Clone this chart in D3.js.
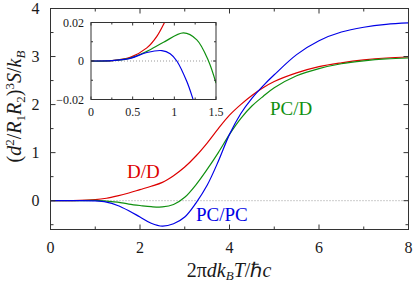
<!DOCTYPE html>
<html>
<head>
<meta charset="utf-8">
<script src="https://cdn.jsdelivr.net/npm/d3@7"></script>
<style>
  body { margin: 0; background: #fff; }
  svg { display: block; }
</style>
</head>
<body>
<svg id="chart" width="415" height="282"></svg>
<script>
// main plot values
var tMain = [0, 0.5, 1, 1.25, 1.5, 1.75, 2, 2.25, 2.5, 2.75, 3, 3.25, 3.5, 3.75, 4, 4.25, 4.5, 4.75, 5, 5.5, 6, 6.5, 7, 7.5, 8];
var dd   = [0, 0, 0.02, 0.05, 0.10, 0.16, 0.23, 0.30, 0.38, 0.52, 0.70, 0.93, 1.20, 1.50, 1.78, 2.00, 2.19, 2.35, 2.48, 2.66, 2.79, 2.87, 2.93, 2.97, 2.99];
var pcd  = [0, 0, 0.005, -0.01, -0.03, -0.07, -0.10, -0.125, -0.13, -0.08, 0.07, 0.33, 0.65, 1.00, 1.38, 1.71, 1.97, 2.17, 2.35, 2.60, 2.75, 2.85, 2.91, 2.95, 2.97];
var pcpc = [0, 0, -0.005, -0.03, -0.10, -0.21, -0.34, -0.47, -0.53, -0.48, -0.34, -0.05, 0.32, 0.82, 1.38, 1.81, 2.13, 2.39, 2.62, 3.04, 3.33, 3.51, 3.61, 3.67, 3.70];

// inset values (low temperature)
var tInRed = [0, 0.25, 0.47, 0.67, 0.79, 0.89, 0.95];
var ddIn   = [0, 0.0002, 0.0019, 0.0068, 0.0128, 0.0207, 0.026];
var tInGreen = [0, 0.25, 0.47, 0.67, 0.87, 1.11, 1.27, 1.41, 1.5];
var pcdIn  = [0, 0.0002, 0.0015, 0.005, 0.0097, 0.0146, 0.011, 0, -0.0115];
var tInBlue = [0, 0.25, 0.47, 0.67, 0.85, 0.95, 1.03, 1.15, 1.22, 1.26];
var pcpcIn = [0, 0.0002, 0.0014, 0.0044, 0.0054, 0.0038, 0, -0.0107, -0.0193, -0.025];

var xTicks = [0, 1, 2, 3, 4, 5, 6, 7, 8];
var xLabels = [0, 2, 4, 6, 8];
var yTicks = [-0.5, 0, 0.5, 1, 1.5, 2, 2.5, 3, 3.5, 4];
var yLabels = [0, 1, 2, 3, 4];
var xInTicks = [0, 0.25, 0.5, 0.75, 1, 1.25, 1.5];
var xInLabels = [0, 0.5, 1, 1.5];
var yInTicks = [-0.02, -0.01, 0, 0.01, 0.02];
var yInLabels = [-0.02, 0, 0.02];

var colRed = "#dd0000", colGreen = "#109010", colBlue = "#0000e6";
var serif = "Liberation Serif";

var svg = d3.select("#chart");

var x = d3.scaleLinear().domain([0, 8]).range([50.5, 408.5]);
var y = d3.scaleLinear().domain([-0.6, 4]).range([229.5, 8.5]);

function frame(g, xs, ys, xt, yt, xl, yl, fmtX, fmtY, big, small, fs, labX, labY) {
    var x0 = xs.range()[0], x1 = xs.range()[1];
    var y0 = ys.range()[0], y1 = ys.range()[1];
    g.append("rect").attr("x", x0).attr("y", y1).attr("width", x1 - x0).attr("height", y0 - y1)
        .attr("fill", "none").attr("stroke", "#333").attr("stroke-width", 1);
    xt.forEach(function (v) {
        var len = xl.indexOf(v) >= 0 ? big : small;
        g.append("line").attr("x1", xs(v)).attr("x2", xs(v)).attr("y1", y0).attr("y2", y0 - len).attr("stroke", "#333");
        g.append("line").attr("x1", xs(v)).attr("x2", xs(v)).attr("y1", y1).attr("y2", y1 + len).attr("stroke", "#333");
    });
    yt.forEach(function (v) {
        var len = yl.indexOf(v) >= 0 ? big : small;
        g.append("line").attr("y1", ys(v)).attr("y2", ys(v)).attr("x1", x0).attr("x2", x0 + len).attr("stroke", "#333");
        g.append("line").attr("y1", ys(v)).attr("y2", ys(v)).attr("x1", x1).attr("x2", x1 - len).attr("stroke", "#333");
    });
    xl.forEach(function (v) {
        g.append("text").attr("x", xs(v)).attr("y", y0 + labX).attr("text-anchor", "middle")
            .attr("font-family", serif).attr("font-size", fs).attr("fill", "#1a1a1a").text(fmtX(v));
    });
    yl.forEach(function (v) {
        g.append("text").attr("x", x0 - labY).attr("y", ys(v)).attr("dy", "0.35em").attr("text-anchor", "end")
            .attr("font-family", serif).attr("font-size", fs).attr("fill", "#1a1a1a").text(fmtY(v));
    });
}

function curve(g, xs, ys, tv, vv, col) {
    var line = d3.line().x(function (d) { return xs(d[0]); }).y(function (d) { return ys(d[1]); })
        .curve(d3.curveCatmullRom.alpha(0.5));
    g.append("path").datum(d3.zip(tv, vv)).attr("d", line)
        .attr("fill", "none").attr("stroke", col).attr("stroke-width", 1.2);
}

// main plot
var main = svg.append("g");
main.append("clipPath").attr("id", "clipMain").append("rect")
    .attr("x", x(0)).attr("y", y(4)).attr("width", x(8) - x(0)).attr("height", y(-0.6) - y(4));
main.append("line").attr("x1", x(0)).attr("x2", x(8)).attr("y1", y(0)).attr("y2", y(0))
    .attr("stroke", "#999").attr("stroke-dasharray", "1,2");
var mc = main.append("g").attr("clip-path", "url(#clipMain)");
curve(mc, x, y, tMain, dd, colRed);
curve(mc, x, y, tMain, pcd, colGreen);
curve(mc, x, y, tMain, pcpc, colBlue);
frame(main, x, y, xTicks, yTicks, xLabels, yLabels, d3.format("d"), d3.format("d"), 5, 3, 16, 23, 11);

// curve labels
function label(tx, ty, col, s) {
    main.append("text").attr("x", tx).attr("y", ty).attr("font-family", serif)
        .attr("font-size", 19).attr("fill", col).text(s);
}
label(127, 178, colRed, "D/D");
label(270, 115, colGreen, "PC/D");
label(196, 221, colBlue, "PC/PC");

// inset
var xi = d3.scaleLinear().domain([0, 1.5]).range([91, 216]);
var yi = d3.scaleLinear().domain([-0.02, 0.02]).range([99.5, 22.5]);
var inset = svg.append("g");
inset.append("rect").attr("x", 91).attr("y", 22.5).attr("width", 125).attr("height", 77).attr("fill", "#fff");
inset.append("clipPath").attr("id", "clipIn").append("rect")
    .attr("x", 91).attr("y", 22.5).attr("width", 125).attr("height", 77);
inset.append("line").attr("x1", xi(0)).attr("x2", xi(1.5)).attr("y1", yi(0)).attr("y2", yi(0))
    .attr("stroke", "#999").attr("stroke-dasharray", "1,2");
var ic = inset.append("g").attr("clip-path", "url(#clipIn)");
curve(ic, xi, yi, tInRed, ddIn, colRed);
curve(ic, xi, yi, tInGreen, pcdIn, colGreen);
curve(ic, xi, yi, tInBlue, pcpcIn, colBlue);
var fmtIn = function (v) { return v === 0 ? "0" : (v < 0 ? "\u2212" : "") + Math.abs(v).toFixed(2); };
frame(inset, xi, yi, xInTicks, yInTicks, xInLabels, yInLabels, function (v) { return String(v); }, fmtIn, 3, 2, 12, 16, 7);

// axis titles
var xt = svg.append("text").attr("x", 229).attr("y", 277).attr("text-anchor", "middle")
    .attr("font-family", serif).attr("font-size", 20).attr("fill", "#1a1a1a");
xt.append("tspan").text("2\u03c0");
xt.append("tspan").attr("font-style", "italic").text("dk");
xt.append("tspan").attr("font-style", "italic").attr("font-size", 13).attr("dy", 3).text("B");
xt.append("tspan").attr("font-style", "italic").attr("dy", -3).text("T");
xt.append("tspan").text("/\u210f");
xt.append("tspan").attr("font-style", "italic").text("c");

var yt = svg.append("text").attr("transform", "translate(21,106.5) rotate(-90)")
    .attr("text-anchor", "middle").attr("font-family", serif).attr("font-size", 20).attr("fill", "#1a1a1a");
yt.append("tspan").text("(");
yt.append("tspan").attr("font-style", "italic").text("d");
yt.append("tspan").attr("font-size", 13).attr("dy", -7).text("2");
yt.append("tspan").attr("dy", 7).text("/");
yt.append("tspan").attr("font-style", "italic").text("R");
yt.append("tspan").attr("font-size", 13).attr("dy", 4).text("1");
yt.append("tspan").attr("font-style", "italic").attr("dy", -4).text("R");
yt.append("tspan").attr("font-size", 13).attr("dy", 4).text("2");
yt.append("tspan").attr("dy", -4).text(")");
yt.append("tspan").attr("font-size", 13).attr("dy", -7).text("3");
yt.append("tspan").attr("font-style", "italic").attr("dy", 7).text("S");
yt.append("tspan").text("/");
yt.append("tspan").attr("font-style", "italic").text("k");
yt.append("tspan").attr("font-style", "italic").attr("font-size", 13).attr("dy", 4).text("B");
</script>
</body>
</html>
